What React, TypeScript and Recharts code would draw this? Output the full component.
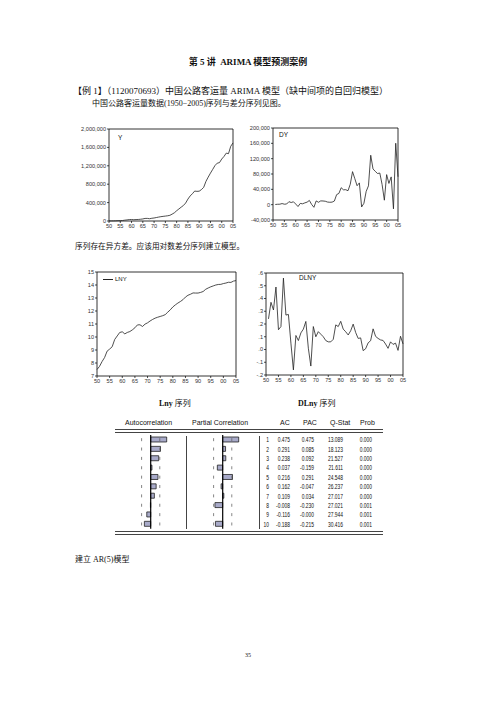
import { LineChart, Line, XAxis, YAxis, ReferenceArea, ReferenceLine, BarChart, Bar } from "recharts";

// years 1950-2005
const years = [
  1950, 1951, 1952, 1953, 1954, 1955, 1956, 1957, 1958, 1959,
  1960, 1961, 1962, 1963, 1964, 1965, 1966, 1967, 1968, 1969,
  1970, 1971, 1972, 1973, 1974, 1975, 1976, 1977, 1978, 1979,
  1980, 1981, 1982, 1983, 1984, 1985, 1986, 1987, 1988, 1989,
  1990, 1991, 1992, 1993, 1994, 1995, 1996, 1997, 1998, 1999,
  2000, 2001, 2002, 2003, 2004, 2005,
];

// road passenger volume (Y)
const yValues = [
  1808, 2298, 3327, 4536, 7404, 8646, 10351, 18122, 23740, 31254,
  32860, 28000, 31254, 33524, 38178, 44802, 55825, 56390, 49513, 59276,
  65512, 75355, 84963, 93900, 100707, 106936, 113550, 123005, 149229, 178618,
  222799, 261559, 300610, 336965, 390336, 476486, 544259, 593682, 650473, 644508,
  648085, 682681, 731774, 860719, 953940, 1040810, 1122110, 1204583, 1257332, 1269004,
  1347392, 1402798, 1475257, 1464335, 1624526, 1697381,
];

// first difference DY, 1951-2005
const dyValues = [
  490, 1029, 1209, 2868, 1242, 1705, 7771, 5618, 7514,
  1606, -4860, 3254, 2270, 4654, 6624, 11023, 565, -6877, 9763,
  6236, 9843, 9608, 8937, 6807, 6229, 6614, 9455, 26224, 29389,
  44181, 38760, 39051, 36355, 53371, 86150, 67773, 49423, 56791, -5965,
  3577, 34596, 49093, 128945, 93221, 86870, 81300, 82473, 52749, 11672,
  78388, 55406, 72459, -10922, 160191, 72855,
];

// log series LNY
const lnyValues = [
  7.5, 7.74, 8.11, 8.42, 8.91, 9.07, 9.25, 9.81, 10.08, 10.35,
  10.4, 10.24, 10.35, 10.42, 10.55, 10.71, 10.93, 10.94, 10.81, 10.99,
  11.09, 11.23, 11.35, 11.45, 11.52, 11.58, 11.64, 11.72, 11.91, 12.09,
  12.31, 12.47, 12.61, 12.73, 12.87, 13.07, 13.21, 13.29, 13.39, 13.38,
  13.38, 13.43, 13.5, 13.67, 13.77, 13.86, 13.93, 14.0, 14.04, 14.05,
  14.11, 14.15, 14.21, 14.2, 14.3, 14.34,
];

// log difference DLNY, 1951-2005
const dlnyValues = [
  0.24, 0.37, 0.31, 0.49, 0.155, 0.18, 0.56, 0.27, 0.275,
  0.05, -0.16, 0.11, 0.07, 0.13, 0.16, 0.22, 0.01, -0.13, 0.18,
  0.1, 0.14, 0.12, 0.1, 0.07, 0.06, 0.06, 0.08, 0.193, 0.18,
  0.221, 0.16, 0.139, 0.114, 0.147, 0.199, 0.133, 0.087, 0.091, -0.009,
  0.006, 0.052, 0.069, 0.162, 0.103, 0.087, 0.075, 0.071, 0.043, 0.009,
  0.06, 0.04, 0.05, -0.007, 0.104, 0.044,
];

const yearTicks = [1950, 1955, 1960, 1965, 1970, 1975, 1980, 1985, 1990, 1995, 2000, 2005];

// correlogram of DLNY
const lags = [1, 2, 3, 4, 5, 6, 7, 8, 9, 10];
const acValues = [0.475, 0.291, 0.238, 0.037, 0.216, 0.162, 0.109, -0.008, -0.116, -0.188];
const pacValues = [0.475, 0.085, 0.092, -0.159, 0.291, -0.047, 0.034, -0.23, -0, -0.215];
const qStats = [13.089, 18.123, 21.527, 21.611, 24.548, 26.237, 27.017, 27.021, 27.944, 30.416];
const probs = [0.0, 0.0, 0.0, 0.0, 0.0, 0.0, 0.0, 0.001, 0.001, 0.001];
const band = 0.27;

const yData = years.map((year, i) => ({ year, v: yValues[i] }));
const lnyData = years.map((year, i) => ({ year, v: lnyValues[i] }));
const dyData = years.slice(1).map((year, i) => ({ year, v: dyValues[i] }));
const dlnyData = years.slice(1).map((year, i) => ({ year, v: dlnyValues[i] }));

const sans = '"Liberation Sans", Arial, sans-serif';
const serif = '"Liberation Serif", "Noto Sans CJK SC", serif';
const tickStyle = { fontSize: 5.6, fill: "#333", fontFamily: sans };

type PanelProps = {
  rows: { year: number; v: number }[];
  x0: number;
  y0: number;
  w: number;
  h: number;
  yW: number;
  domain: [number, number];
  ticks: number[];
  fmt: (v: number) => string;
};

const Panel = ({ rows, x0, y0, w, h, yW, domain, ticks, fmt }: PanelProps) => {
  const mt = 4, mr = 7, xH = 10;
  return (
    <div style={{ position: "absolute", left: x0 - yW, top: y0 - mt }}>
      <LineChart width={yW + w + mr} height={mt + h + xH} data={rows} margin={{ top: mt, right: mr, bottom: 0, left: 0 }}>
        <XAxis dataKey="year" type="number" domain={[1950, 2005]} ticks={yearTicks} interval={0}
          tickFormatter={(v) => String(v).slice(2)} axisLine={false} tickLine={{ stroke: "#000", strokeWidth: 0.7 }}
          tickSize={2} tickMargin={1} height={xH} tick={tickStyle} />
        <YAxis type="number" domain={domain} ticks={ticks} interval={0} tickFormatter={fmt} width={yW}
          axisLine={false} tickLine={{ stroke: "#000", strokeWidth: 0.7 }} tickSize={2} tickMargin={1} tick={tickStyle} />
        <ReferenceArea x1={1950} x2={2005} y1={domain[0]} y2={domain[1]} fill="none" fillOpacity={0} stroke="#000" strokeWidth={0.8} />
        <Line dataKey="v" type="linear" stroke="#222" strokeWidth={0.8} dot={false} isAnimationActive={false} />
      </LineChart>
    </div>
  );
};

const rowTop = 435.3;
const rowH = 9.37;

const Correlogram = ({ values, left }: { values: number[]; left: number }) => (
  <div style={{ position: "absolute", left, top: rowTop }}>
    <BarChart layout="vertical" width={67.4} height={rowH * 10} data={lags.map((lag, i) => ({ lag, v: values[i] }))}
      margin={{ top: 0, right: 0, bottom: 0, left: 0 }}>
      <XAxis type="number" domain={[-1, 1]} hide />
      <YAxis type="category" dataKey="lag" hide />
      <ReferenceLine x={band} stroke="#666" strokeWidth={0.8} strokeDasharray="0 3.2 3 3.17" />
      <ReferenceLine x={-band} stroke="#666" strokeWidth={0.8} strokeDasharray="0 3.2 3 3.17" />
      <Bar dataKey="v" fill="#A8AAC9" stroke="#222" strokeWidth={0.8} barSize={5} isAnimationActive={false} />
      <ReferenceLine x={0} stroke="#000" strokeWidth={1.2} />
    </BarChart>
  </div>
);

const T = ({ x, y, size, children, bold, center, font }: any) => (
  <div style={{
    position: "absolute", left: center ? x - 150 : x, width: center ? 300 : undefined, textAlign: center ? "center" : "left",
    top: y - size / 2 - 1, fontSize: size, lineHeight: `${size + 2}px`, whiteSpace: "nowrap",
    fontWeight: bold ? "bold" : "normal", fontFamily: font || serif, color: "#111",
  }}>{children}</div>
);

const Num = ({ right, children }: { right: number; children: any }) => (
  <div style={{
    position: "absolute", left: right - 40, width: 40, textAlign: "right", transform: "scaleX(0.72)",
    transformOrigin: "right center", top: 0,
  }}>{children}</div>
);

const fmt3 = (v: number) => (v < 0 || Object.is(v, -0) ? "-" : "") + Math.abs(v).toFixed(3);

const App = () => {
  return (
    <div style={{ position: "absolute", left: 0, top: 0, width: 496, height: 702, background: "#fff", overflow: "hidden" }}>
      <T x={248} y={62} size={9} bold center>第 5 讲&nbsp; ARIMA 模型预测案例</T>
      <T x={73} y={91} size={9}>【例 1】（1120070693）中国公路客运量 ARIMA 模型（缺中间项的自回归模型）</T>
      <T x={92} y={104} size={8}>中国公路客运量数据(1950−2005)序列与差分序列见图。</T>

      <Panel rows={yData} x0={109} y0={129} w={124} h={92} yW={38} domain={[0, 2000000]}
        ticks={[0, 400000, 800000, 1200000, 1600000, 2000000]} fmt={(v) => v.toLocaleString("en-US")} />
      <T x={118} y={138} size={6.5} font={sans}>Y</T>

      <Panel rows={dyData} x0={273} y0={128} w={125} h={92} yW={34} domain={[-40000, 200000]}
        ticks={[-40000, 0, 40000, 80000, 120000, 160000, 200000]} fmt={(v) => v.toLocaleString("en-US")} />
      <T x={279} y={135} size={6.5} font={sans}>DY</T>

      <T x={75} y={247} size={7.7}>序列存在异方差。应该用对数差分序列建立模型。</T>

      <Panel rows={lnyData} x0={97} y0={272} w={139} h={104} yW={12} domain={[7, 15]}
        ticks={[7, 8, 9, 10, 11, 12, 13, 14, 15]} fmt={(v) => String(v)} />
      <div style={{ position: "absolute", left: 103, top: 278.5, width: 10, height: 0, borderTop: "1px solid #222" }} />
      <T x={115} y={279} size={6} font={sans}>LNY</T>

      <Panel rows={dlnyData} x0={266} y0={273} w={137} h={102} yW={12} domain={[-0.2, 0.6]}
        ticks={[-0.2, -0.1, 0, 0.1, 0.2, 0.3, 0.4, 0.5, 0.6]}
        fmt={(v) => (v < 0 ? "-" : "") + "." + Math.round(Math.abs(v) * 10)} />
      <T x={299} y={278} size={6.5} font={sans}>DLNY</T>

      <T x={159} y={404} size={8}><b>Lny</b> 序列</T>
      <T x={298} y={404} size={8}><b>DLny</b> 序列</T>

      <T x={125} y={422} size={7} font={sans}>Autocorrelation</T>
      <T x={192} y={422} size={7} font={sans}>Partial Correlation</T>
      <T x={280} y={422} size={7} font={sans}>AC</T>
      <T x={303} y={422} size={7} font={sans}>PAC</T>
      <T x={330} y={422} size={7} font={sans}>Q-Stat</T>
      <T x={360} y={422} size={7} font={sans}>Prob</T>

      <div style={{ position: "absolute", left: 115, top: 429, width: 268, height: 1, background: "#444" }} />
      <div style={{ position: "absolute", left: 115, top: 431.5, width: 268, height: 1, background: "#444" }} />
      <div style={{ position: "absolute", left: 115, top: 531, width: 268, height: 1, background: "#444" }} />
      <div style={{ position: "absolute", left: 115, top: 533.5, width: 268, height: 1, background: "#444" }} />
      <div style={{ position: "absolute", left: 186, top: 436, width: 1, height: 93, background: "#444" }} />
      <div style={{ position: "absolute", left: 259, top: 436, width: 1, height: 93, background: "#444" }} />

      <Correlogram values={acValues} left={116.6} />
      <Correlogram values={pacValues} left={188.6} />

      {lags.map((lag, i) => (
        <div key={lag} style={{ position: "absolute", left: 0, top: rowTop + i * rowH, height: rowH, width: 496,
          fontFamily: sans, fontSize: 6.8, lineHeight: `${rowH}px`, color: "#111" }}>
          <Num right={269}>{lag}</Num>
          <Num right={290}>{fmt3(acValues[i])}</Num>
          <Num right={314}>{fmt3(pacValues[i])}</Num>
          <Num right={343}>{qStats[i].toFixed(3)}</Num>
          <Num right={372}>{probs[i].toFixed(3)}</Num>
        </div>
      ))}

      <T x={75} y={560} size={8}>建立 AR(5)模型</T>
      <T x={248} y={655} size={6} center>35</T>
    </div>
  );
};

export default App;
